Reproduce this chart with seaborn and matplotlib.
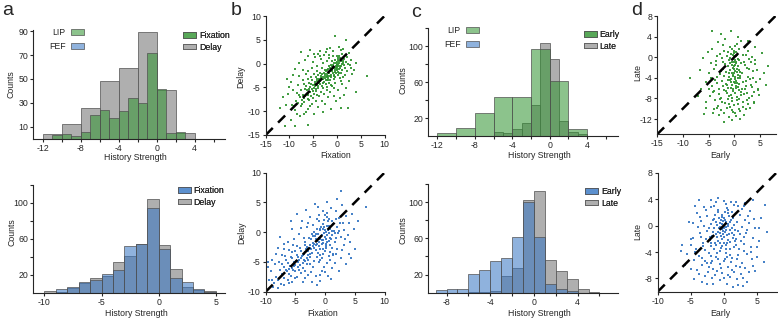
import matplotlib
matplotlib.use("Agg")
import matplotlib.pyplot as plt
import matplotlib.patches as mpatches
import seaborn as sns

# ---- histogram data (bin edges + counts) ----
# a, top: LIP Fixation (width 1) and Delay (width 2)
lip_fix_edges = list(range(-11, 4))          # -11 .. 3
lip_fix_counts = [3, 4, 2, 6, 20, 24, 17, 23, 34, 30, 72, 42, 5, 6]
lip_delay_edges = list(range(-12, 5, 2))     # -12 .. 4
lip_delay_counts = [4, 12, 26, 48, 59, 89, 41, 5]

# a, bottom: FEF Fixation and Delay (width 1)
fef_ad_edges = list(range(-10, 6))           # -10 .. 5
fef_fix_counts = [0, 4, 7, 12, 14, 21, 26, 52, 55, 94, 49, 17, 12, 4, 1]
fef_delay_counts = [2, 1, 6, 11, 17, 19, 34, 41, 54, 104, 53, 27, 7, 3, 2]

# c, top: LIP Early (width 2) and Late (width 1)
lip_early_edges = list(range(-12, 5, 2))
lip_early_counts = [3, 9, 26, 43, 43, 97, 61, 8]
lip_late_edges = list(range(-6, 5))
lip_late_counts = [4, 3, 8, 15, 34, 103, 86, 17, 4, 2]

# c, bottom: FEF Early and Late (width 1)
fef_el_edges = list(range(-9, 7))            # -9 .. 6
fef_early_counts = [3, 4, 4, 21, 25, 35, 38, 61, 100, 61, 10, 4, 2, 0, 0]
fef_late_counts = [0, 0, 0, 1, 1, 2, 18, 27, 102, 112, 36, 24, 15, 4, 1]

# ---- scatter data (x, y) ----
lip_fix_delay = [
    (-0.2, -0.5), (0.3, -0.1), (-0.6, -1.0), (0.1, -0.8), (-0.9, -0.3), (0.5, 0.2), (-0.4, -1.4), (0.8, -0.6),
    (-1.2, -1.1), (0.0, 0.4), (-0.7, 0.1), (0.4, -1.2), (-1.5, -1.6), (0.9, 0.5), (-0.3, -2.0), (1.2, 0.1),
    (-1.0, -0.6), (0.2, -1.7), (-0.5, 0.7), (0.6, -0.9), (-1.8, -1.2), (1.5, 0.9), (-0.1, -1.1), (0.7, 1.1),
    (-1.3, -2.3), (0.3, -2.4), (-0.8, -1.9), (1.1, -1.4), (-2.0, -2.1), (0.0, -0.3), (1.8, 0.4), (-1.6, -0.5),
    (0.5, 1.6), (-0.4, -2.8), (1.4, -0.3), (-2.3, -1.6), (0.9, -2.0), (-1.1, 0.6), (2.1, 1.3), (-0.6, -3.2),
    (1.6, -1.0), (-2.6, -2.7), (0.2, 1.2), (-1.9, -3.0), (2.4, 0.0), (-0.9, 1.5), (1.0, 2.1), (-2.8, -2.0),
    (0.6, -3.1), (-1.4, -3.5),
    (-3.0, -3.3), (-3.4, -2.6), (-2.7, -3.9), (-3.8, -3.5), (-4.1, -4.4), (-3.2, -4.8), (-4.6, -3.9), (-4.0, -5.2),
    (-5.0, -4.6), (-4.4, -5.8), (-5.3, -5.4), (-5.7, -4.9), (-4.8, -6.3), (-6.0, -6.1), (-5.5, -6.8), (-6.4, -5.6),
    (-6.7, -6.9), (-6.2, -7.4), (-7.1, -6.5), (-7.4, -7.6), (-6.9, -8.1), (-7.8, -7.1), (-8.2, -8.3), (-7.6, -8.9),
    (-8.6, -7.8), (-9.1, -9.0), (-8.8, -9.7), (-9.5, -8.6), (-3.6, -1.9), (-2.4, -4.3), (-3.9, -2.4), (-2.9, -5.1),
    (-4.5, -2.9), (-3.3, -5.9), (-5.2, -3.5), (-4.2, -6.6), (-5.9, -4.1), (-5.0, -7.2), (-6.5, -4.8), (-5.8, -7.7),
    (-2.2, -3.4), (-1.7, -4.0), (-2.5, -1.3), (-3.1, -1.0), (-1.2, -2.8), (-2.0, -4.9), (-3.7, -4.0), (-4.3, -3.3),
    (-4.9, -5.1), (-5.6, -5.9), (-6.3, -6.4), (-7.0, -7.3), (-2.6, -3.0), (-3.5, -3.7), (-1.9, -2.6), (-4.7, -4.3),
    (-5.4, -4.2), (-6.8, -5.3), (-7.3, -8.4), (-8.0, -6.6),
    (-7.5, 2.4), (-5.6, 2.8), (-3.9, 2.1), (-6.8, 0.8), (-5.0, 0.3), (-4.3, -0.6), (-6.1, -1.5), (-7.9, -2.7),
    (-8.8, -1.2), (-9.6, -3.9), (-5.3, -0.9), (-3.4, 0.9), (-2.7, 1.8), (-4.7, 1.3), (-6.5, -2.2), (-8.3, -4.5),
    (-7.2, -3.5), (-3.0, 0.2), (-2.1, 0.6), (-9.2, -5.6), (-10.3, -6.4), (-11.4, -7.0), (-10.8, -8.8), (-12.0, -9.4),
    (-3.6, 2.6), (-1.6, 1.1), (-2.3, 2.4), (-10.0, -5.0),
    (-0.35, 5.9), (2.0, 5.0), (0.4, 3.5), (1.3, 3.0), (-0.8, 2.6), (2.6, 2.2), (-1.4, 3.3),
    (6.3, -2.5), (4.0, -6.0), (0.9, -9.4), (2.3, -9.4), (-1.2, -9.6), (1.8, -5.2), (0.3, -5.6), (-0.7, -6.9),
    (2.5, -3.7), (3.2, -2.1), (1.1, -4.3), (-1.0, -4.8), (-0.2, -7.8), (-1.9, -7.1), (-2.6, -8.5), (0.6, -7.2),
    (3.0, -0.9), (2.9, 0.8), (3.6, -1.4), (1.5, -6.5), (-3.2, -7.9), (-1.5, -5.9), (-4.0, -9.2), (-2.9, -10.1),
    (-4.9, -10.6),
    (-11.0, -13.1), (-8.9, -13.1), (-6.1, -12.9), (-9.7, -11.8), (-7.7, -11.0), (-6.6, -10.2), (-5.6, -9.0), (-8.4, -10.5),
    (-0.1, -0.2), (0.4, 0.6), (-0.8, -0.7), (-1.4, -0.9), (0.6, -0.4), (-0.3, 0.2), (-1.1, -1.6), (0.1, -1.4),
    (-0.6, -2.4), (-1.7, -2.0), (1.0, -0.1), (-2.1, -2.6), (-0.2, -0.9), (0.8, 0.9), (-1.5, -2.6), (-2.5, -2.2),
    (-2.9, -2.8), (-3.3, -3.0), (-3.7, -3.2), (-2.2, -2.9), (-3.0, -4.0), (-3.5, -4.3), (-4.2, -3.7), (-4.6, -4.8),
    (-3.9, -4.7), (-5.1, -5.8), (-4.5, -5.3), (-5.8, -5.4), (-6.1, -6.7), (-1.0, -1.3), (0.2, -0.4), (-0.5, -1.7),
    (-1.3, -0.2), (0.3, 0.8), (-2.4, -3.5), (-3.2, -2.1), (-2.0, -1.4), (1.3, 0.6), (-0.7, -2.7), (0.5, -1.9),
    (-4.8, -2.2), (-5.5, -2.9), (-6.2, -3.2), (-2.1, -5.6), (-1.3, -4.5), (-0.4, -4.1), (0.9, -3.6), (1.7, -2.4),
    (-6.9, -4.3), (-7.6, -5.6), (-8.5, -6.2), (-3.8, -6.8), (-2.7, -6.4), (-4.5, -7.8), (-5.3, -8.4), (-6.0, -9.5),
    (-7.0, -10.5), (-3.5, 1.5), (-4.9, 2.1), (-6.2, 1.7), (-2.0, 3.0), (0.9, 2.8), (1.9, 1.8), (2.7, -0.3),
    (3.9, 0.2), (2.2, -1.6), (1.2, -2.9), (-1.7, 1.9), (-8.0, 0.2), (-9.3, -2.4), (-10.5, -3.3), (-7.1, -1.4),
    (-0.6, -5.1), (-1.8, -3.4), (-4.1, -1.6), (0.0, 1.7),
]

fef_fix_delay = [
    (-0.5, -0.4), (0.2, 0.1), (-1.1, -0.9), (-0.3, -1.3), (0.6, -0.2), (-0.8, 0.3), (0.0, -0.8), (-1.4, -1.5),
    (0.9, 0.6), (-0.6, -2.0), (0.4, -1.6), (-1.7, -0.7), (1.2, -0.5), (-0.2, 0.8), (-1.0, -2.4), (0.7, 1.0),
    (-2.0, -1.8), (0.1, -2.6), (-1.3, 0.5), (1.5, 0.2), (-0.9, -1.1), (0.3, -0.5), (-1.9, -2.7), (1.0, -1.2),
    (-0.4, 1.4), (-2.3, -1.1), (0.8, -2.1), (-1.6, -3.0), (1.4, 1.3), (-0.1, -3.2), (-2.6, -2.2), (0.5, 1.8),
    (-1.2, -3.5), (1.8, -0.9), (-0.7, 0.9), (-2.2, -0.3), (0.2, -1.9), (-1.5, -2.1), (2.0, 0.8), (-0.3, -2.9),
    (-1.8, 0.1), (1.1, -2.6), (-2.8, -3.1), (0.6, 2.3), (-0.9, -3.8), (2.2, -0.2), (-2.4, -2.9), (-0.2, 2.0),
    (1.6, -1.7), (-1.1, 1.8), (-3.0, -2.5), (0.9, -3.4), (-1.4, -4.1), (2.5, 1.5), (-0.5, -4.4), (1.9, 2.2),
    (-2.7, -0.9), (0.0, 2.9), (1.3, -3.9), (-3.3, -1.6),
    (-3.5, -3.6), (-4.0, -3.1), (-3.1, -4.3), (-4.4, -4.6), (-4.8, -3.8), (-3.8, -5.1), (-5.2, -5.0), (-5.5, -4.4),
    (-4.6, -5.9), (-5.9, -5.7), (-6.2, -5.1), (-5.4, -6.4), (-6.6, -6.3), (-6.9, -5.8), (-6.1, -7.0), (-7.3, -7.0),
    (-7.6, -6.4), (-7.0, -7.7), (-7.9, -8.1), (-8.3, -7.5), (-8.6, -8.6), (-9.0, -8.0), (-8.8, -9.2), (-4.2, -2.6),
    (-3.6, -4.7), (-5.0, -3.2), (-4.3, -5.5), (-5.8, -4.1), (-5.1, -6.6), (-6.5, -4.7), (-5.7, -7.3), (-7.2, -5.4),
    (-6.3, -8.0), (-3.2, -2.8), (-2.9, -3.8), (-3.9, -4.0), (-4.5, -4.1), (-4.9, -4.8), (-5.3, -5.6), (-6.0, -6.2),
    (-2.6, -3.6), (-3.4, -2.2), (-3.7, -6.0), (-4.7, -2.4), (-2.8, -4.6), (-5.6, -3.4), (-4.1, -6.8), (-6.7, -4.0),
    (-3.0, -5.4), (-7.7, -5.0),
    (2.6, 6.9), (-1.7, 4.8), (6.9, 4.3), (-4.8, 3.1), (4.6, 3.1), (-7.6, -0.8), (1.0, 4.0), (2.9, 4.6),
    (-0.4, 3.6), (3.5, 2.7), (-2.6, 2.6), (-3.9, 1.8), (-5.6, 0.6), (-4.4, -0.3), (-3.1, 0.9), (-6.3, -1.7),
    (-5.2, -1.2), (-2.0, 1.2), (1.9, 3.5), (4.0, 1.6), (3.1, 0.4), (2.7, -0.8), (3.8, -0.5), (4.9, 0.6),
    (-1.0, 2.9), (0.4, 3.2), (-3.6, -0.9), (-7.0, -2.9), (-8.2, -3.6), (-9.6, -5.0), (-8.9, -4.7),
    (-9.6, -5.8), (-9.4, -8.1), (-6.9, -8.9), (-1.3, -8.9), (-0.9, -8.2), (3.5, -5.3), (1.2, -6.1), (2.6, -4.3),
    (4.0, -3.6), (0.3, -5.2), (-0.6, -6.6), (-2.0, -5.8), (-1.6, -7.4), (-2.9, -7.2), (0.8, -4.6), (2.0, -2.9),
    (3.2, -2.2), (1.7, -5.1), (-0.2, -5.9), (-1.1, -5.0), (-2.3, -6.7), (-3.8, -8.4), (-4.7, -7.5), (0.5, -7.3),
    (2.4, -6.5), (4.4, -4.4), (-0.8, -4.6), (1.4, -3.6), (-3.3, -6.5), (-5.5, -8.3), (-8.0, -9.3), (-7.4, -8.7),
    (-0.2, -0.1), (-0.7, -0.6), (0.1, -1.1), (-1.2, -0.3), (0.5, 0.4), (-0.4, -1.8), (-1.6, -1.2), (0.8, -0.9),
    (-0.9, 0.5), (0.2, -2.3), (-1.3, -2.0), (-0.6, -1.3), (0.4, 1.1), (-2.1, -2.3), (-1.0, -1.6), (0.0, 0.3),
    (-1.8, -1.9), (-2.5, -2.6), (-0.3, 0.5), (1.1, 0.2), (-2.2, -3.5), (-2.9, -2.8), (-3.3, -3.3), (-3.7, -3.9),
    (-4.1, -4.4), (-2.5, -4.1), (-3.4, -4.9), (-4.6, -5.0), (-5.0, -5.5), (-5.6, -6.0), (-6.4, -6.6), (-1.5, -0.3),
    (0.7, -1.5), (-0.8, -2.9), (1.6, -0.2), (-2.0, -0.6), (0.3, 2.6), (-1.4, 2.3), (1.2, 1.9), (2.3, 2.4),
    (-2.9, 1.6), (-4.1, 0.7), (-5.4, -2.2), (-6.1, -3.0), (-7.3, -3.8), (-8.4, -5.3), (-9.1, -6.6), (-1.8, -4.8),
    (-0.4, -3.7), (0.6, -4.0), (1.8, -3.7), (2.9, -3.0), (3.4, -1.2), (2.4, 0.2), (-3.4, -7.7), (-4.4, -6.3),
    (-5.0, -7.7), (-6.0, -8.6), (-2.6, -5.3), (-0.9, -7.2), (0.0, -6.7), (1.0, -7.8), (-2.2, -8.4), (3.0, 1.5),
    (4.2, -1.7), (5.0, -2.8), (5.5, 1.8), (-1.2, 4.2), (0.4, 5.1), (2.0, 5.6), (-3.2, 3.8), (-5.8, 1.9),
    (-7.0, -1.9), (-8.0, -2.6),
]

lip_early_late = [
    (0.0, 0.2), (-0.3, -0.4), (0.4, -0.9), (-0.6, 0.6), (0.2, -1.5), (-0.2, -2.1), (0.6, 0.4), (-0.9, -1.2),
    (0.1, -2.7), (0.8, -1.8), (-0.5, -3.1), (0.3, 1.0), (-1.1, -0.5), (0.7, -3.4), (-0.1, 0.8), (0.5, -2.3),
    (-0.8, -2.5), (1.0, -0.6), (-0.4, 1.5), (0.2, -3.9), (-1.3, -1.8), (1.2, -2.9), (-0.7, -4.2), (0.0, -1.0),
    (0.9, 1.6), (-1.5, 0.3), (0.4, -4.6), (-0.2, -3.6), (1.4, -1.2), (-1.0, -3.8), (0.6, -5.0), (-0.5, -5.4),
    (1.1, -4.1), (-1.6, -2.8), (0.1, 2.2), (-0.9, 2.0), (1.6, 0.5), (0.3, -6.0), (-0.3, -6.6), (0.8, -5.8),
    (-1.2, -5.9), (1.3, -6.8), (-0.6, -7.3), (0.5, -7.7), (-0.1, -4.9),
    (-2.2, -1.0), (-2.8, -3.3), (-3.4, -5.1), (-2.0, -6.4), (-3.9, -2.2), (-2.5, -7.9), (-4.1, -6.8), (-1.8, -8.8),
    (-3.1, -9.4), (-4.6, -4.0), (2.1, -1.6), (2.6, -3.9), (3.2, -5.4), (1.9, -7.1), (2.9, -0.4), (3.7, -2.7),
    (2.4, -8.3), (3.4, -7.6), (1.7, -9.6), (4.2, -4.9), (-1.9, 1.2), (-2.7, 0.6), (-3.6, -0.7), (2.0, 1.9),
    (2.7, 1.2), (3.5, 0.1), (-4.4, 1.5), (4.1, -1.3), (-1.5, -9.9), (1.2, -10.5), (-5.0, -3.0), (-4.8, -7.6),
    (-5.4, -8.7), (4.6, -6.1), (3.9, -8.8), (-3.0, -11.2), (-1.0, -11.6), (0.7, -9.0), (-0.4, -8.5), (2.3, -5.6),
    (-2.4, -4.6), (-1.4, -6.9), (-3.3, -3.9), (1.5, -3.1), (-2.1, -2.3), (2.8, -2.3), (-3.7, -8.3), (3.0, -9.9),
    (-1.7, -5.2), (1.0, -8.2), (-2.6, -10.3), (0.2, -10.8), (-0.8, -9.6), (1.8, -11.3), (-4.0, -10.0), (4.4, -2.4),
    (-4.3, -5.6), (-2.9, -6.2), (2.5, -6.9), (-1.1, -7.6), (0.9, -6.3), (-2.3, -8.7), (3.1, -4.3), (-3.5, -1.5),
    (1.6, -4.8), (-1.3, -4.4), (2.2, -10.1), (-0.5, -10.2), (3.8, -6.7), (-2.0, -3.6),
    (-4.3, 5.0), (-0.7, 5.1), (-2.6, 4.5), (-5.1, 1.1), (-6.0, -0.2), (-8.5, -4.0), (6.6, -1.8), (5.4, 0.8),
    (-5.5, -9.9), (-4.1, -10.9), (-0.5, -12.2), (3.8, -8.6), (4.7, -6.3), (-1.8, 3.6), (0.8, 4.0), (2.6, 3.2),
    (-3.2, 2.9), (4.1, 1.9), (-6.4, -6.2), (-5.8, -11.0), (5.0, -4.2), (-6.6, -2.4), (1.1, -12.0), (-2.0, -12.5),
    (5.8, -3.1), (-7.0, -7.5), (6.1, -5.3),
    (0.1, -0.6), (-0.2, 0.4), (0.3, -1.2), (-0.5, -1.6), (0.0, -2.3), (0.5, -2.9), (-0.3, -3.4), (0.2, -4.3),
    (-0.6, -4.8), (0.4, -5.6), (-0.2, -6.2), (0.1, -7.0), (-0.4, -7.9), (0.6, -8.4), (0.0, -9.2), (-0.8, -0.1),
    (0.7, -0.3), (-0.1, -1.8), (0.9, -2.5), (-1.1, -3.1), (1.1, -3.7), (-0.9, -4.5), (1.0, -5.2), (-1.4, -5.3),
    (1.5, -6.1), (-1.6, -6.5), (1.3, -7.4), (-1.2, -8.1), (0.3, 0.3), (-0.4, -0.9), (0.8, -4.0), (-0.7, -5.9),
    (0.0, -3.0), (0.2, -5.1), (-0.1, 1.3), (0.6, 2.5), (-1.2, 1.0), (1.8, -0.9), (-1.8, -1.4), (2.3, -4.6),
    (-2.2, -5.5), (2.1, -6.2), (-2.6, -2.7), (2.5, -2.0), (-3.0, -7.1), (2.9, -7.9), (-3.8, -4.4), (3.6, -4.0),
    (-4.5, -1.2), (4.0, -0.6), (-1.9, -10.8), (0.4, -11.4), (2.6, -9.1), (-3.4, -9.9), (-4.9, -6.2), (4.8, -7.3),
    (-2.1, 2.4), (1.4, 3.1), (-3.3, 0.3), (3.3, -1.0), (-1.0, -9.0), (1.6, -8.7), (-2.8, -8.2), (0.9, -10.0),
    (-0.3, -10.7), (3.5, -5.8), (-3.9, -6.6), (-2.4, -0.2), (2.2, 0.4), (-5.4, -4.9),
]

fef_early_late = [
    (0.0, 0.0), (-0.3, -0.5), (0.4, -0.2), (-0.6, 0.4), (0.2, -1.0), (-0.1, 0.7), (0.7, 0.3), (-0.8, -0.9),
    (0.5, -1.4), (-0.4, -1.6), (0.9, -0.6), (-1.0, 0.1), (0.1, 1.1), (-0.2, -2.0), (1.1, 0.8), (-1.2, -1.3),
    (0.6, -2.2), (-0.7, 1.2), (0.3, 0.5), (-0.5, -0.2), (1.3, -1.1), (-1.4, -0.4), (0.0, -2.6), (0.8, 1.4),
    (-0.9, -2.3), (1.5, 0.1), (-0.2, 1.6), (0.4, -3.0), (-1.1, -2.9), (1.0, -2.5), (-1.6, 0.8), (0.2, 2.0),
    (-0.4, -3.4), (1.7, -0.7), (-1.8, -1.6), (0.6, 1.9), (-0.1, -1.3), (0.9, -3.5), (-1.3, 1.6), (1.4, -1.9),
    (-0.6, -3.9), (0.3, -4.2), (-1.5, -3.5), (1.2, 2.1), (-2.0, 0.3), (2.0, 0.6), (-0.8, 2.4), (0.5, 2.7),
    (-2.1, -2.2), (1.8, -3.0),
    (-2.5, -0.8), (-3.1, -2.6), (-2.2, -4.1), (-3.6, -1.1), (-2.8, -5.3), (-4.2, -3.5), (-3.3, -6.0), (-1.9, -5.6),
    (-4.5, -5.2), (-2.4, -7.0), (2.4, -1.3), (3.0, -2.8), (2.2, -4.5), (3.6, -0.6), (2.7, -5.7), (4.1, -3.2),
    (3.3, -6.4), (1.9, -6.1), (4.5, -1.9), (2.6, -7.3), (-2.6, 1.5), (-3.4, 0.7), (-1.9, 2.8), (2.5, 1.6),
    (3.2, 0.9), (2.1, 2.9), (-4.0, 1.9), (4.0, 2.2), (-1.2, -4.7), (1.3, -4.9), (-0.5, -5.8), (0.7, -6.3),
    (-1.6, -6.6), (1.6, -7.0), (-0.2, -7.2), (0.9, -7.8), (-2.9, -3.7), (3.5, -4.3), (-3.8, -4.6), (4.3, -5.1),
    (-1.0, -6.9), (0.2, -5.1), (-2.0, -3.1), (2.3, -3.6), (-3.0, 0.0), (3.1, -1.7), (-1.4, 3.0), (1.5, 3.1),
    (-4.6, -1.9), (4.7, -0.3), (-2.3, -6.2), (2.0, -8.1), (-3.7, -7.3), (3.8, -7.0), (-4.9, -3.0), (0.0, -8.0),
    (-1.7, -7.9), (1.1, -5.5), (-0.9, -5.1), (0.5, -4.8), (-2.7, 2.3), (2.8, 2.5), (-3.9, -0.2), (3.9, 0.4),
    (-2.1, -1.7), (2.7, -0.2), (-3.3, -4.9), (1.7, -2.3), (-1.3, -2.6), (0.4, 3.3),
    (-3.8, 3.9), (-1.9, 3.9), (-6.3, -2.9), (-4.9, -6.5), (-3.3, -8.5), (0.5, -8.8), (2.9, -9.1), (6.1, -5.5),
    (6.3, 3.1), (5.1, -4.7), (1.8, 3.6), (3.3, 3.4), (-5.5, -4.3), (-5.2, 0.6), (5.4, -2.3), (5.6, 1.2),
    (-4.4, 3.0), (4.8, -6.9), (-5.9, -6.0), (-2.5, -8.9), (1.4, -9.3), (-0.8, 4.2), (4.4, 3.9), (-6.5, -3.9),
    (6.6, -0.9), (-4.5, -8.1), (3.6, -8.5),
    (0.1, -0.3), (-0.2, 0.2), (0.3, -0.7), (-0.5, -1.1), (0.6, 0.0), (-0.1, -0.8), (0.2, 0.9), (-0.7, -0.4),
    (0.8, -1.3), (-0.3, 1.3), (0.0, -1.7), (-1.0, -1.8), (1.2, -0.3), (-0.4, 0.9), (0.5, -2.6), (-0.6, -2.7),
    (0.9, 0.6), (-1.2, 0.6), (0.3, -3.6), (-0.2, -3.1), (1.6, -1.4), (-1.6, -1.0), (1.9, -2.1), (-1.9, -2.6),
    (2.2, -0.8), (-2.3, -0.4), (1.4, 1.2), (-1.4, 1.0), (0.7, 2.3), (-0.9, 2.0), (2.6, -2.4), (-2.7, -2.1),
    (2.0, -5.0), (-2.0, -4.6), (3.0, -3.9), (-3.1, -3.1), (1.0, -4.4), (-1.0, -4.2), (2.4, -6.2), (-2.6, -5.7),
    (3.4, -1.1), (-3.5, -1.8), (3.7, 1.4), (-3.6, 1.3), (0.1, -5.4), (-0.4, -6.4), (1.3, -6.7), (-1.3, -7.4),
    (2.9, -8.0), (-2.9, -7.7), (4.2, -4.0), (-4.3, -4.0), (4.6, 1.0), (-4.6, 0.4), (0.6, -7.4), (-0.6, -8.3),
    (1.1, 3.5), (-1.1, 3.6), (3.0, 3.0), (-3.0, 2.8), (5.0, -3.3), (-5.0, -2.1), (5.4, -0.4), (2.1, -9.0),
    (-1.6, -8.8), (4.4, -6.1), (-4.1, -6.7), (1.5, -3.3), (-1.7, -5.3), (0.0, 3.7),
]

GREEN = "#2e932e"
BLUE = "#3374c2"
GRAY = "#afafaf"
EDGE = "#505050"

sns.set_style("ticks")
plt.rcParams["font.family"] = ["Liberation Sans", "DejaVu Sans"]
plt.rcParams["font.size"] = 6.3
plt.rcParams["axes.unicode_minus"] = False
plt.rcParams["axes.linewidth"] = 0.8
for k in ("xtick", "ytick"):
    plt.rcParams[k + ".major.size"] = 2.2
    plt.rcParams[k + ".minor.size"] = 2.2
    plt.rcParams[k + ".major.width"] = 0.8
    plt.rcParams[k + ".minor.width"] = 0.8
    plt.rcParams[k + ".direction"] = "out"
    plt.rcParams[k + ".labelsize"] = 6.3
    plt.rcParams[k + ".major.pad"] = 1.4

W, H = 778, 319
fig = plt.figure(figsize=(W / 100, H / 100), dpi=100)


def px_axes(left, top, right, bottom):
    return fig.add_axes([left / W, 1 - bottom / H, (right - left) / W, (bottom - top) / H])


def labels(ax, xl, yl, xpos, ypos):
    ax.set_xlabel(xl, fontsize=6.3)
    ax.set_ylabel(yl, fontsize=6.3)
    ax.xaxis.set_label_coords(xpos[0] / W, 1 - xpos[1] / H, transform=fig.transFigure)
    ax.yaxis.set_label_coords(ypos[0] / W, 1 - ypos[1] / H, transform=fig.transFigure)
    ax.xaxis.label.set_va("center")
    ax.yaxis.label.set_va("center")


def hist(ax, edges, counts, color, alpha):
    centers = [(a + b) / 2 for a, b in zip(edges[:-1], edges[1:])]
    sns.histplot(x=centers, weights=counts, bins=list(edges), ax=ax, color=color,
                 alpha=alpha, edgecolor=EDGE, linewidth=0.5)


def legend(ax, colors, names, x, y, first=True, spacing=0.3):
    hs = [mpatches.Patch(facecolor=c, edgecolor=EDGE, linewidth=0.5) for c in colors]
    lg = ax.legend(hs, names, loc="upper left", bbox_to_anchor=(x / W, 1 - y / H),
                   bbox_transform=fig.transFigure, frameon=False, fontsize=6.3,
                   markerfirst=first, handlelength=1.5, handleheight=0.6,
                   handletextpad=0.3 if first else 0.6, labelspacing=spacing,
                   borderpad=0, borderaxespad=0)
    ax.add_artist(lg)


def scatter(ax, pts, color, lim):
    xs = [p[0] for p in pts]
    ys = [p[1] for p in pts]
    sns.scatterplot(x=xs, y=ys, ax=ax, color=color, s=2.5, marker="s", linewidth=0, alpha=0.9)
    ax.axline((0, 0), slope=1, color="black", lw=1.8, dashes=(4, 3))
    ax.set_xlim(lim[0])
    ax.set_ylim(lim[1])


green_a = matplotlib.colors.to_rgba(GREEN, 0.55)
blue_a = matplotlib.colors.to_rgba(BLUE, 0.55)

# ---- a top ----
ax = px_axes(33, 30, 225, 138.7)
hist(ax, lip_delay_edges, lip_delay_counts, GRAY, 1.0)
hist(ax, lip_fix_edges, lip_fix_counts, GREEN, 0.55)
ax.set_xlim(-13, 7.2)
ax.set_ylim(0, 91)
ax.set_xticks([-12, -8, -4, 0, 4])
ax.set_xticks([-10, -6, -2, 2, 6], minor=True)
ax.set_yticks([10, 30, 50, 70, 90])
labels(ax, "History Strength", "Counts", (135, 157.5), (11, 84))
legend(ax, [green_a, blue_a], ["LIP", "FEF"], 49, 28, first=False, spacing=0.6)
legend(ax, [green_a, GRAY], ["Fixation", "Delay"], 183, 31)

# ---- a bottom ----
ax = px_axes(33, 185, 225, 293)
hist(ax, fef_ad_edges, fef_delay_counts, GRAY, 1.0)
hist(ax, fef_ad_edges, fef_fix_counts, BLUE, 0.55)
ax.set_xlim(-11, 5.8)
ax.set_ylim(0, 120)
ax.set_xticks([-10, -5, 0, 5])
ax.set_yticks([20, 60, 100])
ax.set_yticks([40, 80, 120], minor=True)
labels(ax, "History Strength", "Counts", (136, 314), (12, 232))
legend(ax, [blue_a, GRAY], ["Fixation", "Delay"], 178, 186)

# ---- c top ----
ax = px_axes(428, 28, 618, 136)
hist(ax, lip_late_edges, lip_late_counts, GRAY, 1.0)
hist(ax, lip_early_edges, lip_early_counts, GREEN, 0.55)
ax.set_xlim(-13, 7.3)
ax.set_ylim(0, 120)
ax.set_xticks([-12, -8, -4, 0, 4])
ax.set_xticks([-10, -6, -2, 2, 6], minor=True)
ax.set_yticks([20, 60, 100])
ax.set_yticks([40, 80, 120], minor=True)
labels(ax, "History Strength", "Counts", (539, 156), (403, 80))
legend(ax, [green_a, blue_a], ["LIP", "FEF"], 444, 26, first=False, spacing=0.6)
legend(ax, [green_a, GRAY], ["Early", "Late"], 584, 30)

# ---- c bottom ----
ax = px_axes(428, 184, 618, 292.7)
hist(ax, fef_el_edges, fef_late_counts, GRAY, 1.0)
hist(ax, fef_el_edges, fef_early_counts, BLUE, 0.55)
ax.set_xlim(-9.7, 7.7)
ax.set_ylim(0, 120)
ax.set_xticks([-8, -4, 0, 4])
ax.set_xticks([-6, -2, 2, 6], minor=True)
ax.set_yticks([20, 60, 100])
ax.set_yticks([40, 80, 120], minor=True)
labels(ax, "History Strength", "Counts", (539, 313), (403, 230))
legend(ax, [blue_a, GRAY], ["Early", "Late"], 585, 187)

# ---- b ----
ax = px_axes(265.7, 16, 384.5, 135)
scatter(ax, lip_fix_delay, GREEN, ((-15, 10), (-15, 10)))
ax.set_xticks(range(-15, 11, 5))
ax.set_yticks(range(-15, 11, 5))
labels(ax, "Fixation", "Delay", (336, 156), (241, 77))

ax = px_axes(265.7, 172.7, 384.5, 291.7)
scatter(ax, fef_fix_delay, BLUE, ((-10, 10), (-10, 10)))
ax.set_xticks(range(-10, 11, 5))
ax.set_yticks(range(-10, 11, 5))
labels(ax, "Fixation", "Delay", (323, 313), (241.7, 233))

# ---- d ----
ax = px_axes(657, 16, 775.5, 134.5)
scatter(ax, lip_early_late, GREEN, ((-15, 8), (-15, 8)))
ax.set_xticks(range(-15, 6, 5))
ax.set_yticks(range(-12, 9, 4))
labels(ax, "Early", "Late", (720, 156), (638, 72))

ax = px_axes(657.7, 172.7, 776.5, 291.7)
scatter(ax, fef_early_late, BLUE, ((-10, 8), (-10, 8)))
ax.set_xticks(range(-10, 6, 5))
ax.set_yticks(range(-8, 9, 4))
labels(ax, "Early", "Late", (720, 314), (638, 232))

for a in fig.axes:
    sns.despine(ax=a)

for letter, x, y in (("a", 2, 2), ("b", 231, 2), ("c", 411, 4), ("d", 631, 2)):
    fig.text(x / W, 1 - y / H, letter, fontsize=14, va="top", ha="left")

fig.savefig("out.png", dpi=100)
